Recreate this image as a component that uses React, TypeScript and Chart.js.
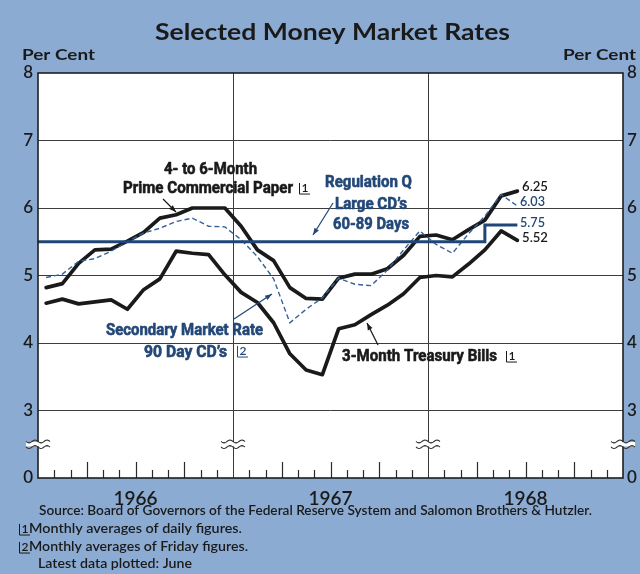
import React, { useEffect, useRef } from 'react';
import { Chart, registerables } from 'chart.js';

Chart.register(...registerables);

// ---- data (monthly, Jan 1966 .. Jun 1968) ----
const monthLabels = [
  'Jan 66', 'Feb 66', 'Mar 66', 'Apr 66', 'May 66', 'Jun 66', 'Jul 66', 'Aug 66', 'Sep 66', 'Oct 66', 'Nov 66', 'Dec 66',
  'Jan 67', 'Feb 67', 'Mar 67', 'Apr 67', 'May 67', 'Jun 67', 'Jul 67', 'Aug 67', 'Sep 67', 'Oct 67', 'Nov 67', 'Dec 67',
  'Jan 68', 'Feb 68', 'Mar 68', 'Apr 68', 'May 68', 'Jun 68',
];
const primeCommercialPaper = [
  4.82, 4.88, 5.18, 5.38, 5.39, 5.51, 5.64, 5.85, 5.90, 6.00, 6.00, 6.00,
  5.73, 5.38, 5.22, 4.82, 4.66, 4.65, 4.96, 5.02, 5.02, 5.10, 5.30, 5.58,
  5.60, 5.53, 5.68, 5.82, 6.18, 6.25,
];
const treasuryBills = [
  4.59, 4.65, 4.58, 4.61, 4.64, 4.50, 4.79, 4.95, 5.36, 5.33, 5.31, 5.01,
  4.75, 4.60, 4.30, 3.84, 3.60, 3.53, 4.21, 4.27, 4.42, 4.56, 4.73, 4.97,
  5.00, 4.98, 5.17, 5.38, 5.66, 5.52,
];
const secondaryCDs = [
  4.97, 5.02, 5.21, 5.25, 5.36, 5.50, 5.63, 5.70, 5.80, 5.85, 5.73, 5.72,
  5.53, 5.28, 4.95, 4.30, 4.50, 4.67, 4.96, 4.87, 4.85, 5.08, 5.38, 5.66,
  5.46, 5.33, 5.62, 5.88, 6.20, 6.03,
];
// Regulation Q ceiling (step line), months since Jan 1 1966
const regQMonths = [0, 27.5, 27.5, 29.5];
const regQRates = [5.5, 5.5, 5.75, 5.75];

const yearCenters = [6, 18, 30];
const yearLabels = ['1966', '1967', '1968'];
const yearBoundaries = [12, 24];
const yTicks = [2, 3, 4, 5, 6, 7, 8];
const yTickLabels = ['0', '3', '4', '5', '6', '7', '8'];
const endLabels = ['6.25', '6.03', '5.75', '5.52'];

// ---- styles ----
const BG = '#8cabd3';
const INK = '#1a1a1a';
const NAVY = '#234878';
const DASH = '#35609a';
const SANS = 'Lato, "Open Sans", sans-serif';
const COND = 'Roboto, "DejaVu Sans", sans-serif';

function fitText(ctx: CanvasRenderingContext2D, str: string, x: number, y: number, w: number, font: string, color: string, stroke = 0) {
  ctx.save();
  ctx.font = font;
  ctx.fillStyle = color;
  ctx.strokeStyle = color;
  ctx.textBaseline = 'middle';
  ctx.textAlign = 'left';
  const m = ctx.measureText(str).width;
  ctx.translate(x, y);
  ctx.scale(w / m, 1);
  ctx.fillText(str, 0, 0);
  if (stroke > 0) {
    ctx.lineWidth = stroke;
    ctx.lineJoin = 'round';
    ctx.strokeText(str, 0, 0);
  }
  ctx.restore();
}

function arrow(ctx: CanvasRenderingContext2D, x1: number, y1: number, x2: number, y2: number, color: string) {
  ctx.save();
  ctx.strokeStyle = color;
  ctx.fillStyle = color;
  ctx.lineWidth = 1.3;
  ctx.beginPath();
  ctx.moveTo(x1, y1);
  ctx.lineTo(x2, y2);
  ctx.stroke();
  const ang = Math.atan2(y2 - y1, x2 - x1);
  const L = 7, Wd = 2.6;
  ctx.beginPath();
  ctx.moveTo(x2, y2);
  ctx.lineTo(x2 - L * Math.cos(ang) + Wd * Math.sin(ang), y2 - L * Math.sin(ang) - Wd * Math.cos(ang));
  ctx.lineTo(x2 - L * Math.cos(ang) - Wd * Math.sin(ang), y2 - L * Math.sin(ang) + Wd * Math.cos(ang));
  ctx.closePath();
  ctx.fill();
  ctx.restore();
}

function noteMark(ctx: CanvasRenderingContext2D, x: number, y: number, digit: string, color: string, size: number) {
  ctx.save();
  ctx.font = `600 ${size}px ${SANS}`;
  ctx.fillStyle = color;
  ctx.strokeStyle = color;
  ctx.lineWidth = 1;
  ctx.textBaseline = 'middle';
  ctx.textAlign = 'left';
  const w = ctx.measureText(digit).width;
  ctx.fillText(digit, x + 2.5, y);
  const h = size * 0.42;
  ctx.beginPath();
  ctx.moveTo(x + 0.5, y - h);
  ctx.lineTo(x + 0.5, y + h + 1);
  ctx.lineTo(x + 3 + w + 1, y + h + 1);
  ctx.stroke();
  ctx.restore();
}

function breakMark(ctx: CanvasRenderingContext2D, cx: number, cy: number) {
  const half = 12;
  ctx.save();
  ctx.fillStyle = '#ffffff';
  ctx.fillRect(cx - half, cy - 2.2, half * 2, 4.4);
  ctx.strokeStyle = '#333';
  ctx.lineWidth = 1.1;
  for (const dy of [-2.8, 2.8]) {
    ctx.beginPath();
    for (let i = 0; i <= 24; i++) {
      const px = cx - half + i;
      const py = cy + dy + Math.sin((i / 24) * Math.PI * 4) * 1.4;
      if (i === 0) ctx.moveTo(px, py); else ctx.lineTo(px, py);
    }
    ctx.stroke();
  }
  ctx.restore();
}

const decor = {
  id: 'decor',
  beforeDraw(chart: any) {
    const { ctx, chartArea: a } = chart;
    ctx.save();
    ctx.fillStyle = BG;
    ctx.fillRect(0, 0, chart.width, chart.height);
    ctx.fillStyle = '#ffffff';
    ctx.fillRect(a.left, a.top, a.right - a.left, a.bottom - a.top);
    ctx.restore();
  },
  beforeDatasetsDraw(chart: any) {
    const { ctx, chartArea: a, scales } = chart;
    const xs = scales.x;
    ctx.save();
    ctx.strokeStyle = '#3a3a3a';
    ctx.lineWidth = 1;
    for (const b of yearBoundaries) {
      const px = Math.round(xs.getPixelForValue(b)) + 0.5;
      ctx.beginPath();
      ctx.moveTo(px, a.top);
      ctx.lineTo(px, a.bottom);
      ctx.stroke();
    }
    ctx.strokeStyle = '#2a2a2a';
    ctx.lineWidth = 1.2;
    for (let m = 1; m < 36; m++) {
      if (yearBoundaries.includes(m)) continue;
      const px = Math.round(xs.getPixelForValue(m)) + 0.5;
      const len = m % 3 === 0 ? 16 : 8;
      ctx.beginPath();
      ctx.moveTo(px, a.bottom);
      ctx.lineTo(px, a.bottom - len);
      ctx.stroke();
    }
    ctx.restore();
  },
  afterDatasetsDraw(chart: any) {
    const { ctx, chartArea: a, scales } = chart;
    const xs = scales.x, ys = scales.y;
    ctx.save();
    ctx.strokeStyle = '#1e1e1e';
    ctx.lineWidth = 1.6;
    ctx.strokeRect(a.left, a.top, a.right - a.left, a.bottom - a.top);
    ctx.restore();

    const by = ys.getPixelForValue(2.5);
    breakMark(ctx, a.left, by);
    for (const b of yearBoundaries) breakMark(ctx, xs.getPixelForValue(b), by);
    breakMark(ctx, a.right, by);

    const f16 = `bold 17px ${COND}`;
    fitText(ctx, '4- to 6-Month', 164, 170, 93, f16, INK, 0.6);
    fitText(ctx, 'Prime Commercial Paper', 123, 189, 170, f16, INK, 0.6);
    noteMark(ctx, 299, 188, '1', INK, 12);
    arrow(ctx, 163, 199, 176, 212, INK);

    fitText(ctx, 'Regulation Q', 325, 183, 87, f16, NAVY, 0.6);
    fitText(ctx, 'Large CD\u2019s', 335, 205, 72, f16, NAVY, 0.6);
    fitText(ctx, '60-89 Days', 333, 225, 76, f16, NAVY, 0.6);
    arrow(ctx, 333, 203, 313, 235, NAVY);

    fitText(ctx, 'Secondary Market Rate', 106, 331, 157, f16, NAVY, 0.6);
    fitText(ctx, '90 Day CD\u2019s', 144, 353, 83, f16, NAVY, 0.6);
    noteMark(ctx, 237, 351, '2', NAVY, 12);
    arrow(ctx, 234, 319, 272, 294, NAVY);

    fitText(ctx, '3-Month Treasury Bills', 342, 357, 155, f16, INK, 0.6);
    noteMark(ctx, 506, 356, '1', INK, 12);
    arrow(ctx, 378, 345, 367, 323, INK);

    const f12 = `600 12.5px ${SANS}`;
    fitText(ctx, endLabels[0], 522, 187, 26, f12, INK);
    fitText(ctx, endLabels[1], 520, 202, 25, f12, NAVY);
    fitText(ctx, endLabels[2], 520, 223, 25, f12, NAVY);
    fitText(ctx, endLabels[3], 522, 238, 26, f12, INK);
  },
  afterDraw(chart: any) {
    const { ctx } = chart;
    fitText(ctx, 'Selected Money Market Rates', 155, 33, 355, `bold 22px ${SANS}`, INK);
    fitText(ctx, 'Per Cent', 22, 55, 73, `bold 15px ${SANS}`, INK);
    fitText(ctx, 'Per Cent', 563, 55, 73, `bold 15px ${SANS}`, INK);

    const ff = `600 12.5px ${SANS}`;
    fitText(ctx, 'Source: Board of Governors of the Federal Reserve System and Salomon Brothers & Hutzler.', 39, 511, 553, ff, INK);
    noteMark(ctx, 19, 529, '1', INK, 12);
    fitText(ctx, 'Monthly averages of daily figures.', 29, 529, 213, ff, INK);
    noteMark(ctx, 19, 547, '2', INK, 12);
    fitText(ctx, 'Monthly averages of Friday figures.', 29, 547, 219, ff, INK);
    fitText(ctx, 'Latest data plotted: June', 38, 564, 154, ff, INK);
  },
};

function toPoints(values: number[]) {
  return values.map((v, i) => ({ x: i + 0.5, y: v, label: monthLabels[i] }));
}

export default function App() {
  const ref = useRef<HTMLCanvasElement | null>(null);

  useEffect(() => {
    if (!ref.current) return;
    const chart = new Chart(ref.current, {
      type: 'line',
      data: {
        datasets: [
          {
            label: 'Regulation Q Large CDs 60-89 Days',
            data: regQMonths.map((m, i) => ({ x: m, y: regQRates[i] })),
            borderColor: '#1f4677',
            borderWidth: 3,
            pointRadius: 0,
            tension: 0,
          },
          {
            label: 'Secondary Market Rate 90 Day CDs',
            data: toPoints(secondaryCDs),
            borderColor: DASH,
            borderWidth: 1.4,
            borderDash: [5, 3],
            pointRadius: 0,
            tension: 0,
          },
          {
            label: '4- to 6-Month Prime Commercial Paper',
            data: toPoints(primeCommercialPaper),
            borderColor: INK,
            borderWidth: 3.7,
            borderJoinStyle: 'round',
            borderCapStyle: 'round',
            pointRadius: 0,
            tension: 0,
          },
          {
            label: '3-Month Treasury Bills',
            data: toPoints(treasuryBills),
            borderColor: INK,
            borderWidth: 3.7,
            borderJoinStyle: 'round',
            borderCapStyle: 'round',
            pointRadius: 0,
            tension: 0,
          },
        ],
      },
      options: {
        animation: false,
        responsive: true,
        maintainAspectRatio: false,
        layout: { padding: { top: 73, left: 0, right: 0, bottom: 0 } },
        plugins: { legend: { display: false }, tooltip: { enabled: false }, title: { display: false } },
        scales: {
          x: {
            type: 'linear',
            min: 0,
            max: 36,
            grid: { display: false, drawTicks: false },
            border: { display: false },
            afterBuildTicks: (axis: any) => {
              axis.ticks = yearCenters.map((v) => ({ value: v }));
            },
            afterFit: (axis: any) => {
              axis.height = 96;
            },
            ticks: {
              autoSkip: false,
              maxRotation: 0,
              padding: 9,
              color: INK,
              font: { family: SANS, size: 19, weight: '600' },
              callback: (_v: any, i: number) => yearLabels[i],
            },
          },
          y: {
            type: 'linear',
            position: 'left',
            min: 2,
            max: 8,
            afterBuildTicks: (axis: any) => {
              axis.ticks = yTicks.map((v) => ({ value: v }));
            },
            afterFit: (axis: any) => {
              axis.width = 38;
            },
            border: { display: false },
            grid: {
              drawTicks: false,
              lineWidth: 1,
              color: (c: any) => (c.tick && c.tick.value > 2 && c.tick.value < 8 ? '#3c3c3c' : 'rgba(0,0,0,0)'),
            },
            ticks: {
              padding: 5,
              color: INK,
              font: { family: SANS, size: 17, weight: '600' },
              callback: (_v: any, i: number) => yTickLabels[i],
            },
          },
          y2: {
            type: 'linear',
            position: 'right',
            min: 2,
            max: 8,
            afterBuildTicks: (axis: any) => {
              axis.ticks = yTicks.map((v) => ({ value: v }));
            },
            afterFit: (axis: any) => {
              axis.width = 17;
            },
            border: { display: false },
            grid: { display: false, drawTicks: false },
            ticks: {
              padding: 4,
              color: INK,
              font: { family: SANS, size: 17, weight: '600' },
              callback: (_v: any, i: number) => yTickLabels[i],
            },
          },
        },
      },
      plugins: [decor],
    } as any);
    return () => chart.destroy();
  }, []);

  return (
    <div style={{ position: 'absolute', left: 0, top: 0, width: 640, height: 574 }}>
      <canvas ref={ref} />
    </div>
  );
}
